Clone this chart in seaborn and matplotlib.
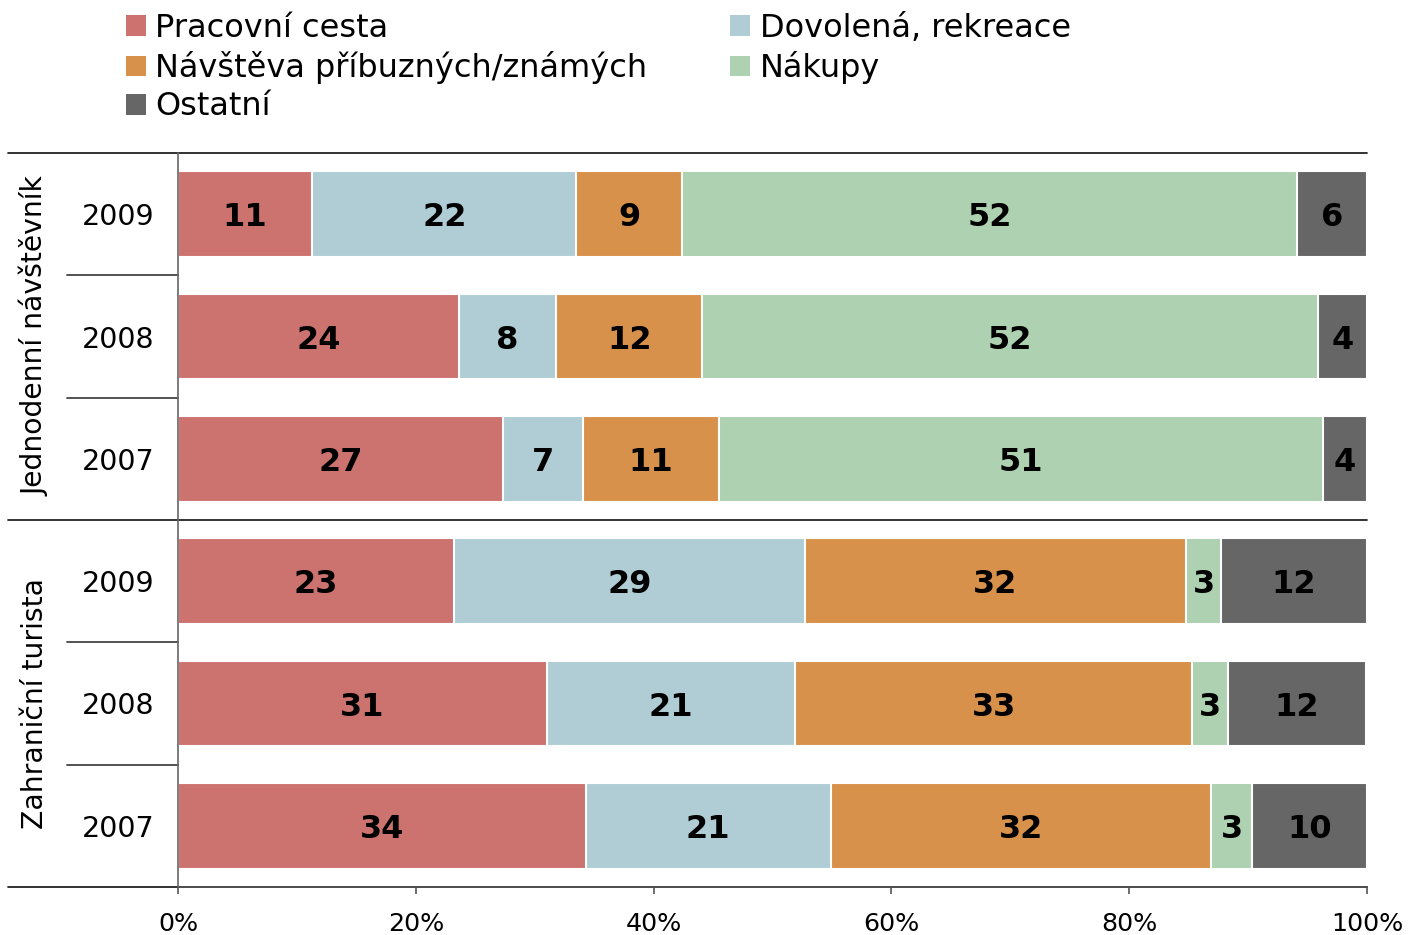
import numpy as np
import pandas as pd
import matplotlib
matplotlib.use("Agg")
import matplotlib.pyplot as plt
import matplotlib.transforms as mtransforms
from matplotlib.patches import Patch
import seaborn as sns

# ---- data ----
groups = ["Jednodenní návštěvník", "Zahraniční turista"]
years = ["2009", "2008", "2007"]
categories = ["Pracovní cesta", "Dovolená, rekreace", "Návštěva příbuzných/známých", "Nákupy", "Ostatní"]
# rows: J2009, J2008, J2007, Z2009, Z2008, Z2007 (bar lengths)
pracovni = [11.3, 23.6, 27.3, 23.2, 31.0, 34.3]
dovolena = [22.2, 8.2, 6.8, 29.5, 20.9, 20.6]
navsteva = [8.9, 12.3, 11.4, 32.1, 33.4, 32.0]
nakupy = [51.7, 51.8, 50.8, 2.9, 3.0, 3.4]
ostatni = [5.9, 4.1, 3.7, 12.3, 11.6, 9.7]
# printed labels
lab_pracovni = [11, 24, 27, 23, 31, 34]
lab_dovolena = [22, 8, 7, 29, 21, 21]
lab_navsteva = [9, 12, 11, 32, 33, 32]
lab_nakupy = [52, 52, 51, 3, 3, 3]
lab_ostatni = [6, 4, 4, 12, 12, 10]
xticks = [0, 20, 40, 60, 80, 100]

colors = ["#CC7370", "#B0CDD5", "#D8914A", "#ADD1B1", "#666666"]

series = [pracovni, dovolena, navsteva, nakupy, ostatni]
labels = [lab_pracovni, lab_dovolena, lab_navsteva, lab_nakupy, lab_ostatni]
row_ids = [g[0] + y for g in groups for y in years]

vals = np.array(series, dtype=float)  # shape (5, 6)
cum = np.cumsum(vals, axis=0)
starts = cum - vals

df = pd.DataFrame({"row": row_ids})
for i, c in enumerate(categories):
    df[c] = cum[i]

sns.set_style("white")
plt.rcParams["font.family"] = ["DejaVu Sans"]
plt.rcParams["text.color"] = "black"
plt.rcParams["xtick.labelcolor"] = "black"

fig = plt.figure(figsize=(14.08, 9.35), dpi=100)
ax = fig.add_axes([178 / 1408, 1 - 887 / 935, (1367 - 178) / 1408, (887 - 153) / 935])

for i in range(len(categories) - 1, -1, -1):
    sns.barplot(data=df, x=categories[i], y="row", order=row_ids, orient="h",
                color=colors[i], saturation=1, width=0.7, errorbar=None,
                edgecolor="white", linewidth=1.5, ax=ax)

for i in range(len(categories)):
    for r in range(len(row_ids)):
        ax.text(starts[i, r] + vals[i, r] / 2, r, str(labels[i][r]),
                ha="center", va="center_baseline", fontsize=23, fontweight="bold", color="black")

ax.set_xlim(0, 100)
ax.set_ylim(5.5, -0.5)
ax.set_xticks(xticks)
ax.set_xticklabels([f"{t}%" for t in xticks], fontsize=18.3, color="black")
ax.set_yticks([])
ax.set_xlabel("")
ax.set_ylabel("")
ax.tick_params(axis="x", bottom=True, direction="out", length=5, width=1.2, color="#555555", pad=13)

for s in ["top", "right"]:
    ax.spines[s].set_visible(False)
ax.spines["left"].set_color("#666666")
ax.spines["left"].set_linewidth(1.2)
ax.spines["bottom"].set_color("#555555")
ax.spines["bottom"].set_linewidth(1.2)

trans = mtransforms.blended_transform_factory(ax.transAxes, ax.transData)
x_far = (8 - 178) / 1189
x_mid = (67 - 178) / 1189
# long horizontal lines
for yv in [-0.5, 2.5, 5.5]:
    ax.plot([x_far, 1.0], [yv, yv], transform=trans, color="#222222", lw=1.3, clip_on=False)
# short separators
for yv in [0.5, 1.5, 3.5, 4.5]:
    ax.plot([x_mid, 0.0], [yv, yv], transform=trans, color="#444444", lw=1.3, clip_on=False)

# year labels
for r, rid in enumerate(row_ids):
    ax.text((118 - 178) / 1189, r, rid[1:], transform=trans, ha="center", va="center_baseline",
            fontsize=20.5)

# group labels
for gi, g in enumerate(groups):
    ax.text((35 - 178) / 1189, 1 + 3 * gi, g, transform=trans, ha="center", va="center",
            rotation=90, fontsize=20.3)

handles = [Patch(facecolor=c, edgecolor="none") for c in colors]
order = [0, 2, 4, 1, 3]
leg = fig.legend([handles[i] for i in order], [categories[i] for i in order],
                 loc="upper left", bbox_to_anchor=(113 / 1408, 1.0), ncol=2,
                 frameon=False, fontsize=23, handlelength=0.62, handleheight=0.62,
                 handletextpad=0.3, columnspacing=2.6, labelspacing=0.23, borderaxespad=0)

fig.savefig("out.png", dpi=100)
